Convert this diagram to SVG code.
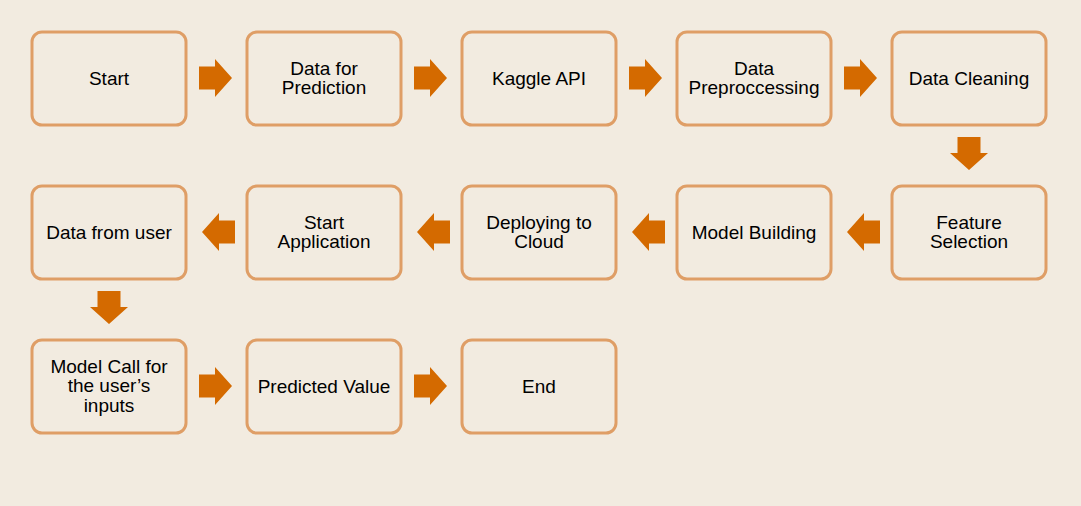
<svg xmlns="http://www.w3.org/2000/svg" width="1081" height="506" viewBox="0 0 1081 506">
<defs>
<style>
.box{fill:#F2EBE0;stroke:#DF9E66;stroke-width:3}
.t{font-family:"Liberation Sans",Arial,sans-serif;font-size:19px;fill:#000;text-anchor:middle;dominant-baseline:central}
.ar{fill:#D46A00}
</style>
<path id="ar" d="M0,-11.5 H16 V-19 L33,0 L16,19 V11.5 H0 Z"/>
</defs>
<rect width="1081" height="506" fill="#F2EBE0"/>
<g id="connectors" class="ar">
<use href="#ar" transform="translate(199,78)"/>
<use href="#ar" transform="translate(414,78)"/>
<use href="#ar" transform="translate(629,78)"/>
<use href="#ar" transform="translate(844,78)"/>
<use href="#ar" transform="translate(969,137) rotate(90)"/>
<use href="#ar" transform="translate(880,232) rotate(180)"/>
<use href="#ar" transform="translate(665,232) rotate(180)"/>
<use href="#ar" transform="translate(450,232) rotate(180)"/>
<use href="#ar" transform="translate(235,232) rotate(180)"/>
<use href="#ar" transform="translate(109,291) rotate(90)"/>
<use href="#ar" transform="translate(199,386)"/>
<use href="#ar" transform="translate(414,386)"/>
</g>
<g id="n1"><rect class="box" x="32" y="32" width="154" height="93" rx="10"/><text class="t" x="109" y="78">Start</text></g>
<g id="n2"><rect class="box" x="247" y="32" width="154" height="93" rx="10"/><text class="t" x="324" y="68.5">Data for</text><text class="t" x="324" y="87.5">Prediction</text></g>
<g id="n3"><rect class="box" x="462" y="32" width="154" height="93" rx="10"/><text class="t" x="539" y="78">Kaggle API</text></g>
<g id="n4"><rect class="box" x="677" y="32" width="154" height="93" rx="10"/><text class="t" x="754" y="68.5">Data</text><text class="t" x="754" y="87.5">Preproccessing</text></g>
<g id="n5"><rect class="box" x="892" y="32" width="154" height="93" rx="10"/><text class="t" x="969" y="78">Data Cleaning</text></g>
<g id="n6"><rect class="box" x="892" y="186" width="154" height="93" rx="10"/><text class="t" x="969" y="222.5">Feature</text><text class="t" x="969" y="241.5">Selection</text></g>
<g id="n7"><rect class="box" x="677" y="186" width="154" height="93" rx="10"/><text class="t" x="754" y="232">Model Building</text></g>
<g id="n8"><rect class="box" x="462" y="186" width="154" height="93" rx="10"/><text class="t" x="539" y="222.5">Deploying to</text><text class="t" x="539" y="241.5">Cloud</text></g>
<g id="n9"><rect class="box" x="247" y="186" width="154" height="93" rx="10"/><text class="t" x="324" y="222.5">Start</text><text class="t" x="324" y="241.5">Application</text></g>
<g id="n10"><rect class="box" x="32" y="186" width="154" height="93" rx="10"/><text class="t" x="109" y="232">Data from user</text></g>
<g id="n11"><rect class="box" x="32" y="340" width="154" height="93" rx="10"/><text class="t" x="109" y="366">Model Call for</text><text class="t" x="109" y="385.5">the user’s</text><text class="t" x="109" y="405">inputs</text></g>
<g id="n12"><rect class="box" x="247" y="340" width="154" height="93" rx="10"/><text class="t" x="324" y="386">Predicted Value</text></g>
<g id="n13"><rect class="box" x="462" y="340" width="154" height="93" rx="10"/><text class="t" x="539" y="386">End</text></g>
</svg>
